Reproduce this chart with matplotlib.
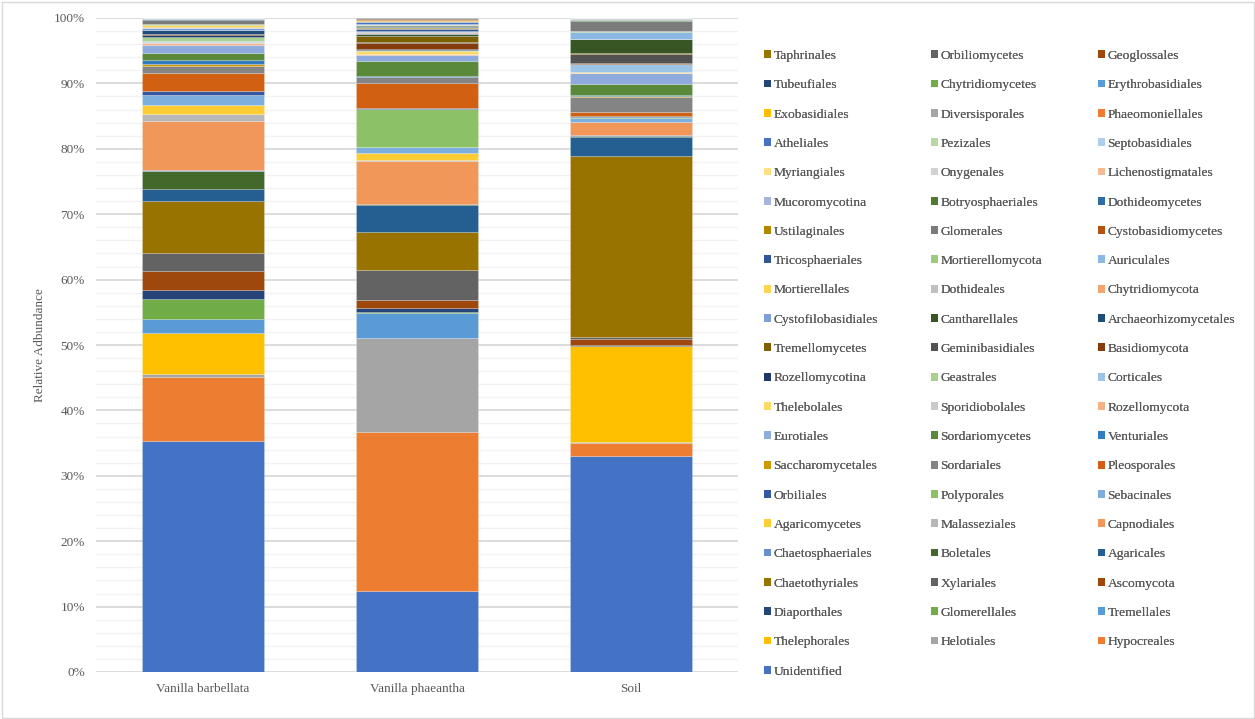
import matplotlib
matplotlib.use("Agg")
import matplotlib.pyplot as plt
from matplotlib.patches import Patch, Rectangle
import numpy as np

categories = ["Vanilla barbellata", "Vanilla phaeantha", "Soil"]

series_names = [
    "Unidentified", "Hypocreales", "Helotiales", "Thelephorales", "Tremellales",
    "Glomerellales", "Diaporthales", "Ascomycota", "Xylariales", "Chaetothyriales",
    "Agaricales", "Boletales", "Chaetosphaeriales", "Capnodiales", "Malasseziales",
    "Agaricomycetes", "Sebacinales", "Polyporales", "Orbiliales", "Pleosporales",
    "Sordariales", "Saccharomycetales", "Venturiales", "Sordariomycetes", "Eurotiales",
    "Rozellomycota", "Sporidiobolales", "Thelebolales", "Corticales", "Geastrales",
    "Rozellomycotina", "Basidiomycota", "Geminibasidiales", "Tremellomycetes",
    "Archaeorhizomycetales", "Cantharellales", "Cystofilobasidiales", "Chytridiomycota",
    "Dothideales", "Mortierellales", "Auriculales", "Mortierellomycota",
    "Tricosphaeriales", "Cystobasidiomycetes", "Glomerales", "Ustilaginales",
    "Dothideomycetes", "Botryosphaeriales", "Mucoromycotina", "Lichenostigmatales",
    "Onygenales", "Myriangiales", "Septobasidiales", "Pezizales", "Atheliales",
    "Phaeomoniellales", "Diversisporales", "Exobasidiales", "Erythrobasidiales",
    "Chytridiomycetes", "Tubeufiales", "Geoglossales", "Orbiliomycetes", "Taphrinales",
]

barbellata = [
    35.3, 9.8, 0.5, 6.3, 2.1, 3.0, 1.5, 2.8, 2.85, 7.85,
    1.9, 2.8, 0.1, 7.55, 1.0, 1.35, 1.5, 0.05, 0.6, 2.8,
    1.1, 0.2, 0.6, 1.2, 1.17, 0.38, 0.1, 0.05, 0.05, 0.7,
    0.2, 0.15, 0.05, 0.05, 0.55, 0.05, 0.2, 0.1, 0.05, 0.4,
    0.05, 0.05, 0.05, 0.05, 0.6, 0.02, 0.02, 0.01, 0.05, 0.01,
    0.01, 0.01, 0.01, 0.01, 0.01, 0.01, 0.01, 0.01, 0.01, 0.01,
    0.01, 0.01, 0.01, 0.01,
]

phaeantha = [
    12.4, 24.3, 14.3, 0.05, 3.8, 0.1, 0.6, 1.25, 4.6, 5.8,
    4.2, 0.05, 0.05, 6.5, 0.2, 1.1, 0.9, 5.8, 0.1, 3.85,
    0.95, 0.05, 0.15, 2.2, 1.0, 0.05, 0.05, 0.5, 0.05, 0.05,
    0.25, 0.9, 0.05, 0.9, 0.05, 0.3, 0.15, 0.12, 0.05, 0.08,
    0.08, 0.08, 0.2, 0.1, 0.12, 0.15, 0.12, 0.08, 0.1, 0.03,
    0.03, 0.03, 0.03, 0.03, 0.25, 0.08, 0.05, 0.15, 0.05, 0.05,
    0.03, 0.15, 0.03, 0.05,
]

soil = [
    33.0, 2.1, 0.05, 14.7, 0.05, 0.05, 0.05, 1.0, 0.25, 27.75,
    2.85, 0.25, 0.05, 2.0, 0.02, 0.02, 0.7, 0.02, 0.2, 0.65,
    2.35, 0.05, 0.15, 1.75, 1.65, 0.03, 0.03, 0.03, 1.3, 0.03,
    0.03, 0.04, 1.5, 0.03, 0.03, 2.14, 0.03, 0.03, 0.02, 0.02,
    1.07, 0.03, 0.03, 0.04, 1.52, 0.03, 0.03, 0.04, 0.2, 0.01,
    0.01, 0.01, 0.01, 0.01, 0.01, 0.01, 0.01, 0.01, 0.01, 0.01,
    0.01, 0.01, 0.01, 0.01,
]

base_colors = [
    "#4472C4", "#ED7D31", "#A5A5A5", "#FFC000", "#5B9BD5", "#70AD47",
    "#264478", "#9E480E", "#636363", "#997300", "#255E91", "#43682B",
    "#698ED0", "#F1975A", "#B7B7B7", "#FFCD33", "#7CAFDD", "#8CC168",
    "#335AA1", "#D26012", "#848484", "#CC9A00", "#327DC2", "#5A8A39",
    "#8FAADC", "#F4B183", "#C9C9C9", "#FFD966", "#9DC3E6", "#A9D18E",
    "#203864", "#843C0C", "#525252", "#7F6000", "#1F4E79", "#375623",
    "#7E9FD8", "#F3A46F", "#C0C0C0", "#FFD54F", "#8AB8E3", "#9BCB7E",
    "#2F5597", "#B4530F", "#7B7B7B", "#B38600", "#2E6DA4", "#4F7A30",
    "#A2B6E1", "#F5BB95", "#D2D2D2", "#FFE080", "#ADCDEA", "#B7D8A2",
]
colors = [base_colors[i % len(base_colors)] for i in range(len(series_names))]

data = np.array([barbellata, phaeantha, soil], dtype=float)  # samples x series
data = data / data.sum(axis=1, keepdims=True) * 100.0       # 100% stacked

W, H = 1255, 719
fig = plt.figure(figsize=(W / 100, H / 100), dpi=100)
fig.patches.append(Rectangle((1.5 / W, 1.5 / H), 1 - 3 / W, 1 - 3 / H,
                             transform=fig.transFigure, fill=False,
                             edgecolor="#D9D9D9", lw=1.0))

left, right, top, bottom = 96, 738, 18, 672
ax = fig.add_axes([left / W, 1 - bottom / H, (right - left) / W, (bottom - top) / H])

x = np.arange(len(categories))
cum = np.zeros(len(categories))
for i, name in enumerate(series_names):
    ax.bar(x, data[:, i], bottom=cum, width=0.57, color=colors[i],
           edgecolor=(1, 1, 1, 0.35), linewidth=0.4, label=name, zorder=3)
    cum += data[:, i]

ax.set_xlim(-0.5, 2.5)
ax.set_ylim(0, 100)
ax.set_yticks(np.arange(0, 101, 10))
ax.set_yticks(np.arange(0, 101, 2), minor=True)
ax.set_yticklabels([f"{v}%" for v in range(0, 101, 10)])
ax.set_xticks(x)
ax.set_xticklabels(categories)
ax.grid(which="minor", axis="y", color="#F2F2F2", lw=1.0, zorder=0)
ax.grid(which="major", axis="y", color="#D9D9D9", lw=1.3, zorder=1)
ax.set_axisbelow(True)
for s in ax.spines.values():
    s.set_visible(False)

font = "Liberation Serif"
txtc = "#595959"
fs = 9.5
ax.tick_params(axis="both", which="both", length=0, colors=txtc, labelsize=fs)
ax.tick_params(axis="y", pad=8)
ax.tick_params(axis="x", pad=8)
for lab in ax.get_xticklabels() + ax.get_yticklabels():
    lab.set_fontfamily(font)

fig.text(40 / W, 1 - 345 / H, "Relative Adbundance", rotation=90,
         ha="center", va="center", fontsize=fs, color=txtc, family=font)

# Legend: reversed order, row-major in 3 columns
rev = list(range(len(series_names)))[::-1]
col_x = [764, 931, 1098]
lfs = 9.7
for c in range(3):
    idx = rev[c::3]
    handles = [Patch(facecolor=colors[i], edgecolor="none") for i in idx]
    labels = [series_names[i] for i in idx]
    leg = fig.legend(handles, labels, loc="upper left",
                     bbox_to_anchor=(col_x[c] / W, 1 - 50 / H),
                     bbox_transform=fig.transFigure, ncol=1, frameon=False,
                     borderpad=0, borderaxespad=0, handlelength=0.52,
                     handleheight=0.52, handletextpad=0.18, labelspacing=1.285,
                     prop={"family": font, "size": lfs})
    for t in leg.get_texts():
        t.set_color(txtc)
    fig.add_artist(leg)

fig.savefig("out.png", dpi=100)
